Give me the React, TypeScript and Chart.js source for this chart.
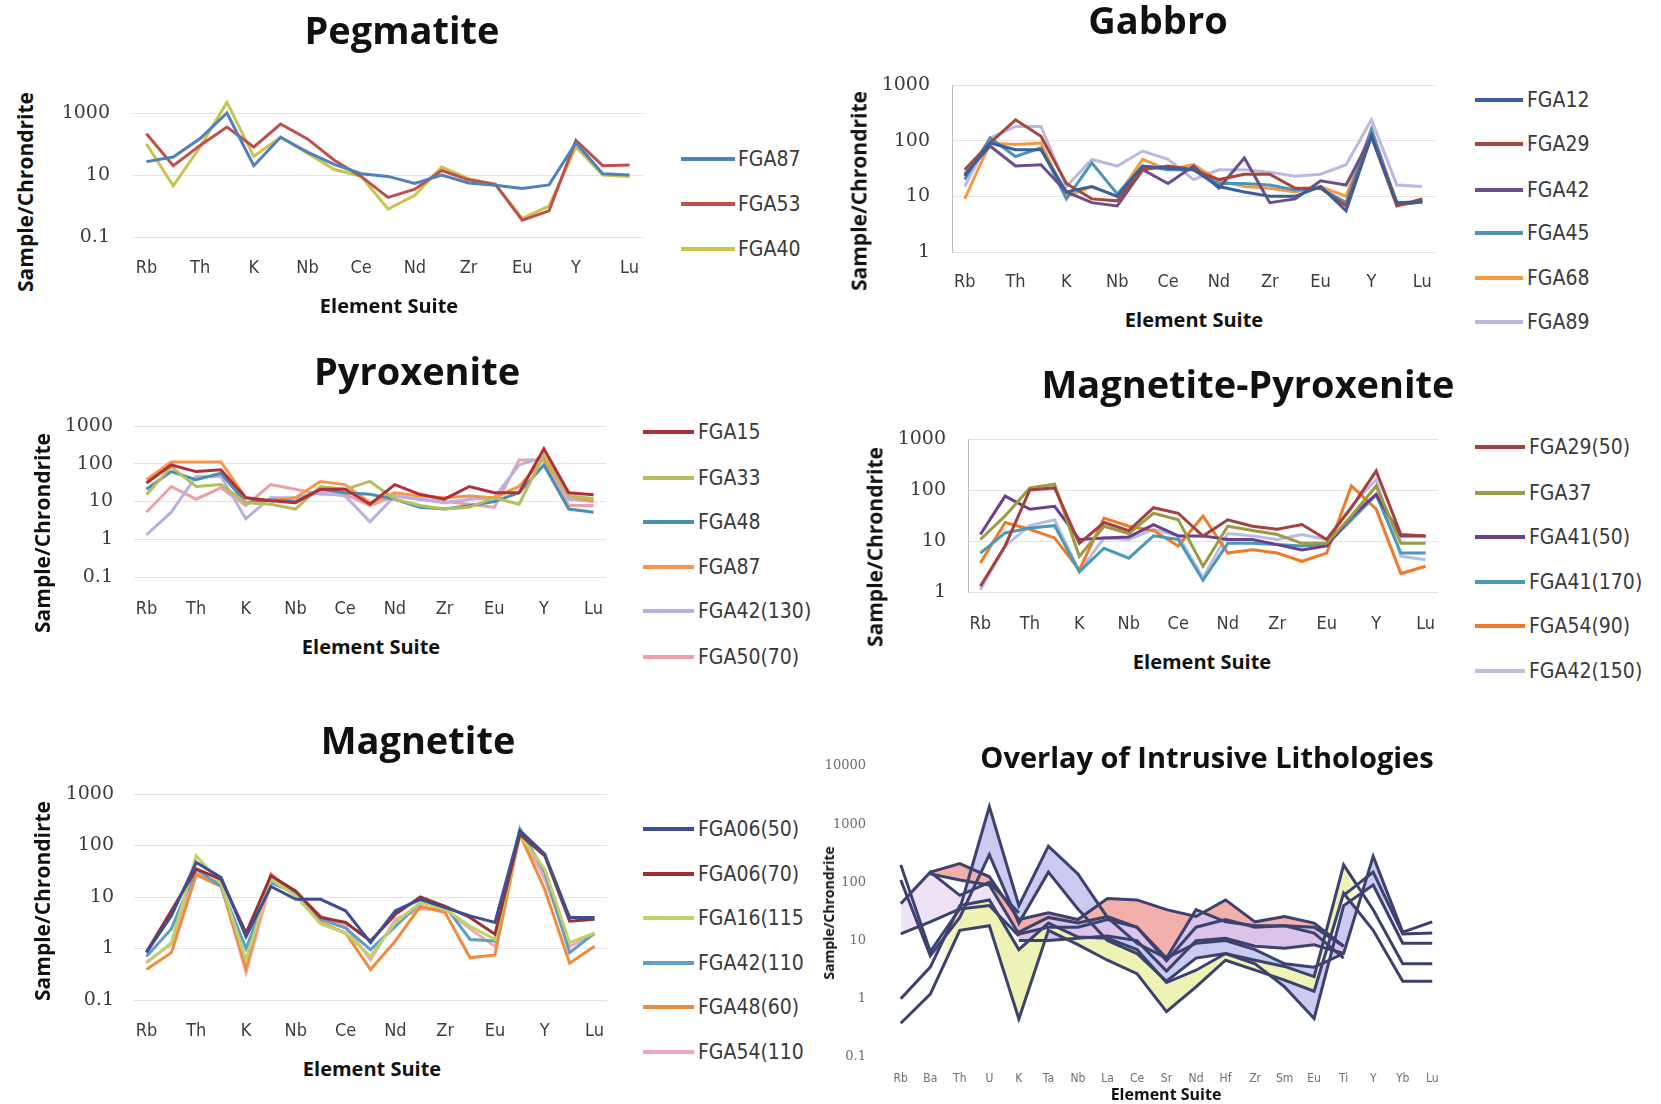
import React, { useEffect, useRef } from "react";
import { Chart, registerables } from "chart.js";
Chart.register(...registerables);

// ---------------- DATA ----------------
const ELEMENTS = ["Rb","Ba","Th","U","K","Ta","Nb","La","Ce","Sr","Nd","Hf","Zr","Sm","Eu","Ti","Y","Yb","Lu"];

// Pegmatite
const PEG_NAMES = ["FGA87","FGA53","FGA40"];
const PEG_FGA87 = [27, 38, 150, 1000, 20, 165, 55, 22, 11, 9, 5.3, 10, 5.5, 4.7, 3.7, 4.8, 110, 11, 10];
const PEG_FGA53 = [215, 20, 90, 350, 80, 440, 146, 30, 9, 1.9, 3.5, 14, 7, 5, 0.35, 0.7, 130, 20, 21];
const PEG_FGA40 = [100, 4.5, 80, 2200, 40, 165, 50, 15, 9, 0.8, 2.2, 18, 7.6, 5, 0.4, 1.0, 80, 10, 9];

// Gabbro
const GAB_NAMES = ["FGA12","FGA29","FGA42","FGA45","FGA68","FGA89"];
const GAB_FGA12 = [23, 91, 69, 69, 12, 15, 10, 35, 32, 30, 15, 12, 10, 10, 15, 5.5, 120, 7.7, 8];
const GAB_FGA29 = [30, 91, 237, 120, 17, 9, 8.3, 30, 35, 30, 20, 25, 25, 14, 14, 6.7, 120, 6.7, 9];
const GAB_FGA42 = [25, 80, 35, 37, 12, 7.7, 6.7, 30, 17, 35, 14, 49, 7.7, 9, 19, 16, 120, 7, 8];
const GAB_FGA45 = [20, 112, 52, 74, 9, 40, 11, 35, 30, 30, 17, 17, 16, 13, 14, 7.7, 160, 7, 8];
const GAB_FGA68 = [9, 91, 85, 91, 10, 15, 10, 46, 30, 37, 19, 15, 14, 12, 15, 10, 160, 7.7, 8];
const GAB_FGA89 = [15, 112, 180, 180, 15, 46, 35, 65, 46, 20, 30, 30, 27, 23, 25, 37, 237, 16, 15];

// Pyroxenite
const PYX_NAMES = ["FGA15","FGA33","FGA48","FGA87","FGA42(130)","FGA50(70)"];
const PYX_FGA15 = [31, 93, 62, 69, 12.6, 10.5, 9.3, 21, 21, 8.5, 28, 15.5, 11.5, 25, 17, 17, 250, 17, 15];
const PYX_FGA33 = [15, 83, 25, 28, 9.3, 8.5, 6.3, 25, 21, 34, 11.5, 7.8, 6.3, 7, 12.6, 8.5, 167, 14, 12];
const PYX_FGA48 = [21, 62, 38, 56, 9.3, 11, 10, 21, 17, 15.5, 11.5, 7, 6.3, 7.7, 10, 17, 93, 6.3, 5.2];
const PYX_FGA87 = [38, 112, 112, 112, 12.6, 10.5, 12.6, 34, 28, 9.3, 17, 14, 12.6, 14, 12.6, 25, 137, 14, 10];
const PYX_FGA42 = [1.3, 5.2, 46, 46, 3.5, 12.6, 12.6, 17, 14, 2.9, 14, 11.5, 9.3, 11.5, 12.6, 93, 150, 11.5, 10];
const PYX_FGA50 = [5.2, 25, 11.5, 23, 7.8, 28, 21, 15.5, 15.5, 7.8, 14, 11.5, 10, 8.5, 7, 125, 125, 7.8, 7.8];

// Magnetite-Pyroxenite
const MPX_NAMES = ["FGA29(50)","FGA37","FGA41(50)","FGA41(170)","FGA54(90)","FGA42(150)"];
const MPX_FGA29 = [1.3, 8, 100, 110, 9, 23, 16, 45, 35, 12.5, 26, 19.5, 17, 21, 10.7, 45, 235, 13.4, 12.6];
const MPX_FGA37 = [10.7, 31, 110, 130, 5, 19.5, 14, 35, 26, 3.2, 19.5, 16, 13.4, 9, 9, 31, 120, 9, 9];
const MPX_FGA41A = [13.4, 76, 42, 48, 10.7, 11.5, 12, 21, 12.6, 12.6, 10.7, 10.7, 8.5, 6.7, 8, 30, 82, 12.6, 12.6];
const MPX_FGA41B = [5.8, 14.4, 18, 20, 2.5, 7.2, 4.6, 12.6, 10.7, 1.7, 9, 9, 8.5, 8, 8.5, 26, 80, 5.8, 5.8];
const MPX_FGA54 = [3.7, 23, 17, 11.5, 2.7, 28, 19.5, 16, 8, 31, 5.8, 6.7, 5.8, 4, 5.8, 120, 42, 2.3, 3.2];
const MPX_FGA42 = [1.1, 8, 20, 26, 2.5, 11.5, 10.7, 17, 12.6, 1.9, 14, 12.6, 10.7, 13.4, 10.7, 48, 160, 5, 4.3];

// Magnetite
const MAG_NAMES = ["FGA06(50)","FGA06(70)","FGA16(115","FGA42(110","FGA48(60)","FGA54(110"];
const MAG_FGA06A = [0.83, 4.3, 47, 24, 1.7, 16, 9, 9, 5.4, 1.3, 5.4, 9, 6.2, 4.3, 3.2, 195, 68, 4, 4];
const MAG_FGA06B = [0.85, 5.4, 35, 22, 2, 26, 13, 4, 3.2, 1.4, 4.6, 10, 6.6, 4, 1.9, 165, 63, 3.4, 3.7];
const MAG_FGA16 = [0.52, 1.3, 63, 18, 0.6, 22, 10.5, 3, 2, 0.7, 3.2, 7.8, 5.8, 2.7, 1.5, 155, 35, 1.3, 2];
const MAG_FGA42 = [0.7, 2.4, 35, 16, 1, 19, 12, 3.7, 2.5, 0.95, 2.7, 7.8, 6.6, 1.5, 1.4, 210, 30, 0.83, 2];
const MAG_FGA48 = [0.39, 0.83, 27, 16, 0.42, 28, 10.5, 3.2, 2, 0.39, 1.4, 6.6, 5, 0.66, 0.75, 165, 14, 0.52, 1.1];
const MAG_FGA54 = [0.55, 1.2, 30, 18, 0.34, 19, 12, 4.3, 2.7, 0.6, 3.7, 5.8, 5.8, 2.4, 1.1, 180, 22, 1.1, 1.9];

// Overlay envelopes (upper / lower) per lithology
const OV_MAG_TOP = [1.0, 3.5, 40, 50, 7, 20, 11.5, 11, 7, 1.9, 3.1, 6, 4.6, 3.6, 2.4, 200, 34, 4, 4];
const OV_MAG_BOT = [0.38, 1.2, 15, 18, 0.45, 15, 8.5, 4.6, 2.7, 0.6, 1.6, 4.6, 3.1, 2.1, 1.35, 65, 15, 2, 2];
const OV_PYX_TOP = [15, 25, 35, 40, 14, 25, 20, 26, 17, 5, 34, 21, 18, 18, 17, 8, 8, 8, 8];
const OV_PYX_BOT = [15, 25, 35, 40, 10, 10, 11, 12, 10, 3, 10, 11, 8, 7.4, 8.5, 6, 6, 6, 6];
const OV_GAB_TOP = [40, 150, 210, 125, 23, 30, 23, 53, 50, 34, 26, 50, 21, 26, 20, 8, 8, 8, 8];
const OV_GAB_BOT = [40, 140, 110, 90, 13, 17, 17, 23, 17, 4.5, 17, 23, 17, 18, 13.5, 5, 5, 5, 5];
const OV_MPX_TOP = [43, 150, 60, 100, 30, 20, 20, 20, 20, 20, 20, 20, 20, 20, 20, 60, 150, 13, 13.5];
const OV_MPX_BOT = [13, 21, 35, 40, 12, 12, 12, 12, 12, 12, 12, 12, 12, 12, 12, 12, 12, 12, 12];
const OV_PEG_TOP = [200, 6.5, 35, 2000, 40, 420, 140, 25, 9, 5, 9, 10, 7, 4, 3.5, 6, 280, 14, 21];
const OV_PEG_BOT = [110, 5.5, 25, 300, 20, 150, 35, 10, 6, 2, 5, 6, 4, 1.6, 0.46, 40, 90, 9, 9];

// ---------------- STYLE ----------------
const TITLE_FONT = "'Open Sans', 'DejaVu Sans', sans-serif";
const COND_FONT = "'DejaVu Sans Condensed', 'DejaVu Sans', sans-serif";
const SERIF_FONT = "'DejaVu Serif', 'Liberation Serif', serif";

type Geo = {
  caL: number; caR: number; caT: number; caB: number;
  padL: number; padT: number; padR: number; padB: number;
  yMin: number; yMax: number; yTicks: number[];
  yPad: number; xPad: number; every: number;
  tickSize: number; yTickSize: number; tickColor: string; yTickColor: string;
  grid: boolean; axis: boolean;
};

function lineDs(label: string, data: number[], color: string) {
  return { label, data, borderColor: color, backgroundColor: color, borderWidth: 3, pointRadius: 0, fill: false, tension: 0 };
}

function PanelChart({ geo, datasets }: { geo: Geo; datasets: any[] }) {
  const ref = useRef<HTMLCanvasElement>(null);
  const W = Math.round(geo.padL + (geo.caR - geo.caL) + geo.padR);
  const H = Math.round(geo.padT + (geo.caB - geo.caT) + geo.padB);
  const left = Math.round(geo.caL - geo.padL);
  const top = Math.round(geo.caT - geo.padT);
  useEffect(() => {
    const chart = new Chart(ref.current as HTMLCanvasElement, {
      type: "line",
      data: { labels: ELEMENTS, datasets },
      options: {
        animation: false,
        responsive: false,
        devicePixelRatio: 1,
        layout: { padding: { left: 0, top: geo.padT, right: geo.padR, bottom: 0 } },
        plugins: {
          legend: { display: false }, tooltip: { enabled: false }, title: { display: false },
          filler: { drawTime: "beforeDatasetsDraw" },
        },
        elements: { point: { radius: 0 }, line: { tension: 0 } },
        scales: {
          x: {
            type: "category",
            offset: true,
            grid: { display: false, drawTicks: false },
            border: { display: false },
            ticks: {
              autoSkip: false, maxRotation: 0, minRotation: 0, padding: geo.xPad,
              color: geo.tickColor,
              font: { family: COND_FONT, size: geo.tickSize },
              callback: (_v: any, i: number) => (i % geo.every === 0 ? ELEMENTS[i] : ""),
            },
            afterFit: (s: any) => { s.height = geo.padB; },
          },
          y: {
            type: "logarithmic",
            min: geo.yMin,
            max: geo.yMax,
            afterBuildTicks: (s: any) => { s.ticks = geo.yTicks.map((v) => ({ value: v })); },
            grid: { display: geo.grid, color: "#e3e3e3", lineWidth: 1, drawTicks: false },
            border: { display: geo.axis, color: "#bdbdbd", width: 1 },
            ticks: {
              padding: geo.yPad,
              color: geo.yTickColor,
              font: { family: SERIF_FONT, size: geo.yTickSize },
              callback: (v: any) => String(v),
            },
            afterFit: (s: any) => { s.width = geo.padL; },
          },
        },
      } as any,
    });
    return () => chart.destroy();
  }, []);
  return (
    <canvas
      ref={ref}
      width={W}
      height={H}
      style={{ position: "absolute", left, top, width: W, height: H }}
    />
  );
}

function Txt({ x, y, text, size, bold = true, family = TITLE_FONT, color = "#111", rotate = false }: any) {
  return (
    <div
      style={{
        position: "absolute", left: x, top: y, whiteSpace: "nowrap",
        transform: rotate ? "translate(-50%, -50%) rotate(-90deg)" : "translate(-50%, -50%)",
        fontFamily: family, fontSize: size, fontWeight: bold ? 700 : 400, color, lineHeight: 1,
      }}
    >
      {text}
    </div>
  );
}

function Legend({ items, ys, x1, x2, tx }: { items: { name: string; color: string }[]; ys: number[]; x1: number; x2: number; tx: number }) {
  return (
    <>
      {items.map((it, i) => (
        <React.Fragment key={it.name + i}>
          <div style={{ position: "absolute", left: x1, top: ys[i] - 2, width: x2 - x1, height: 4, background: it.color }} />
          <div
            style={{
              position: "absolute", left: tx, top: ys[i], transform: "translateY(-50%)",
              fontFamily: COND_FONT, fontStretch: "condensed", fontSize: 21, color: "#3a3a3a",
              whiteSpace: "nowrap", lineHeight: 1,
            }}
          >
            {it.name}
          </div>
        </React.Fragment>
      ))}
    </>
  );
}

const baseGeo = {
  padL: 80, padT: 42, padR: 32, padB: 48, every: 2,
  tickSize: 18, yTickSize: 19, tickColor: "#3c3c3c", yTickColor: "#3c3c3c",
  grid: true, axis: false,
};

const GEO_PEG: Geo = { ...baseGeo, caL: 132.6, caR: 642.4, caT: 82, caB: 237, yMin: 0.1, yMax: 10000, yTicks: [0.1, 10, 1000], yPad: 23, xPad: 21 };
const GEO_GAB: Geo = { ...baseGeo, caL: 952, caR: 1435, caT: 85, caB: 252, yMin: 1, yMax: 1000, yTicks: [1, 10, 100, 1000], yPad: 22, xPad: 20, axis: true };
const GEO_PYX: Geo = { ...baseGeo, caL: 133.6, caR: 605.4, caT: 426, caB: 577, yMin: 0.1, yMax: 1000, yTicks: [0.1, 1, 10, 100, 1000], yPad: 21, xPad: 22 };
const GEO_MPX: Geo = { ...baseGeo, caL: 967.6, caR: 1437.4, caT: 439, caB: 592, yMin: 1, yMax: 1000, yTicks: [1, 10, 100, 1000], yPad: 22, xPad: 22, axis: true };
const GEO_MAG: Geo = { ...baseGeo, caL: 133.5, caR: 606.5, caT: 794, caB: 1000, yMin: 0.1, yMax: 1000, yTicks: [0.1, 1, 10, 100, 1000], yPad: 20, xPad: 21 };
const GEO_OV: Geo = {
  ...baseGeo, caL: 886, caR: 1447, caT: 766, caB: 1057, padL: 60, padT: 34, padR: 20, padB: 30,
  yMin: 0.1, yMax: 10000, yTicks: [0.1, 1, 10, 100, 1000, 10000], yPad: 20, xPad: 15, every: 1,
  tickSize: 12, yTickSize: 13, tickColor: "#6e6e6e", yTickColor: "#6e6e6e", grid: false, axis: false,
};

const PEG_COLORS = ["#4f81bd", "#c0504d", "#c9c44c"];
const GAB_COLORS = ["#3a5e9c", "#a5473c", "#6c4f88", "#4e93b8", "#f59a3d", "#bcb8e0"];
const PYX_COLORS = ["#b22f3a", "#b7bd5c", "#4a8fb0", "#f7964a", "#b8b0e0", "#eaa1a8"];
const MPX_COLORS = ["#a2413f", "#9a9b42", "#6b3f8c", "#4b9ab4", "#f07a28", "#b8bde6"];
const MAG_COLORS = ["#3c4f94", "#9c2f2f", "#bfd26a", "#5e9fc6", "#f28a3c", "#f0a8b8"];

const OUTLINE = "#3b4270";
const NONE = "rgba(255,255,255,0)";

// fill colour stops along the category axis: [categoryIndex, colour]
function bandFill(stops: [number, string][]) {
  return (ctx: any) => {
    const chart = ctx.chart;
    const ca = chart.chartArea;
    const xs = chart.scales && chart.scales.x;
    if (!ca || !xs) return stops[0][1];
    const g = chart.ctx.createLinearGradient(ca.left, 0, ca.right, 0);
    const w = ca.right - ca.left;
    for (const [idx, col] of stops) {
      const f = Math.min(1, Math.max(0, (xs.getPixelForValue(idx) - ca.left) / w));
      g.addColorStop(f, col);
    }
    return g;
  };
}

// visible outline segments, given as [firstSegment, lastSegment] ranges (segment i joins point i and i+1)
function outline(ranges: [number, number][]) {
  return (ctx: any) => (ranges.some(([a, b]) => ctx.p0DataIndex >= a && ctx.p0DataIndex <= b) ? OUTLINE : NONE);
}

function band(top: number[], bot: number[], stops: [number, string][], visTop: [number, number][], visBot: [number, number][]) {
  return [
    { label: "", data: top, borderColor: OUTLINE, backgroundColor: bandFill(stops), borderWidth: 3, pointRadius: 0, fill: "+1", tension: 0, segment: { borderColor: outline(visTop) } },
    { label: "", data: bot, borderColor: OUTLINE, backgroundColor: NONE, borderWidth: 3, pointRadius: 0, fill: false, tension: 0, segment: { borderColor: outline(visBot) } },
  ];
}

const WHITE = "#ffffff";
const YEL = "#eef2b4";
const SAL = "#f3b0aa";
const VIO = "#dcc3ea";
const PALE = "#efe2f5";
const LAV = "#c9ccf1";
const ALL: [number, number][] = [[0, 17]];

export default function App() {
  const pegDs = [PEG_FGA87, PEG_FGA53, PEG_FGA40].map((d, i) => lineDs(PEG_NAMES[i], d, PEG_COLORS[i]));
  const gabDs = [GAB_FGA12, GAB_FGA29, GAB_FGA42, GAB_FGA45, GAB_FGA68, GAB_FGA89].map((d, i) => lineDs(GAB_NAMES[i], d, GAB_COLORS[i]));
  const pyxDs = [PYX_FGA15, PYX_FGA33, PYX_FGA48, PYX_FGA87, PYX_FGA42, PYX_FGA50].map((d, i) => lineDs(PYX_NAMES[i], d, PYX_COLORS[i]));
  const mpxDs = [MPX_FGA29, MPX_FGA37, MPX_FGA41A, MPX_FGA41B, MPX_FGA54, MPX_FGA42].map((d, i) => lineDs(MPX_NAMES[i], d, MPX_COLORS[i]));
  const magDs = [MAG_FGA06A, MAG_FGA06B, MAG_FGA16, MAG_FGA42, MAG_FGA48, MAG_FGA54].map((d, i) => lineDs(MAG_NAMES[i], d, MAG_COLORS[i]));
  const ovDs = [
    ...band(OV_MAG_TOP, OV_MAG_BOT, [[0, WHITE], [1.3, WHITE], [1.8, YEL], [15.1, YEL], [15.7, WHITE], [18, WHITE]], ALL, ALL),
    ...band(OV_PYX_TOP, OV_PYX_BOT, [[0, NONE], [3.99, NONE], [4, VIO], [15, VIO], [15.01, NONE], [18, NONE]], [[4, 14]], [[4, 14]]),
    ...band(OV_GAB_TOP, OV_GAB_BOT, [[0, NONE], [0.99, NONE], [1, SAL], [15, SAL], [15.01, NONE], [18, NONE]], [[1, 14]], [[1, 14]]),
    ...band(OV_MPX_TOP, OV_MPX_BOT, [[0, PALE], [4, PALE], [4.01, NONE], [18, NONE]], [[0, 3], [15, 17]], [[0, 3]]),
    ...band(OV_PEG_TOP, OV_PEG_BOT, [[0, WHITE], [1.4, WHITE], [2, LAV], [16.3, LAV], [16.9, WHITE], [18, WHITE]], ALL, ALL),
  ];

  const items = (names: string[], colors: string[]) => names.map((n, i) => ({ name: n, color: colors[i] }));

  return (
    <div style={{ position: "fixed", left: 0, top: 0, width: 1661, height: 1104, background: "#fff", overflow: "hidden" }}>
      <PanelChart geo={GEO_PEG} datasets={pegDs} />
      <PanelChart geo={GEO_GAB} datasets={gabDs} />
      <PanelChart geo={GEO_PYX} datasets={pyxDs} />
      <PanelChart geo={GEO_MPX} datasets={mpxDs} />
      <PanelChart geo={GEO_MAG} datasets={magDs} />
      <PanelChart geo={GEO_OV} datasets={ovDs} />

      <Txt x={402} y={29} text="Pegmatite" size={38} />
      <Txt x={1158} y={19} text="Gabbro" size={38} />
      <Txt x={417} y={370} text="Pyroxenite" size={38} />
      <Txt x={1248} y={383} text="Magnetite-Pyroxenite" size={38} />
      <Txt x={418} y={739} text="Magnetite" size={38} />
      <Txt x={1207} y={756} text="Overlay of Intrusive Lithologies" size={29} />

      <Txt x={389} y={306} text="Element Suite" size={20} />
      <Txt x={1194} y={320} text="Element Suite" size={20} />
      <Txt x={371} y={647} text="Element Suite" size={20} />
      <Txt x={1202} y={662} text="Element Suite" size={20} />
      <Txt x={372} y={1069} text="Element Suite" size={20} />
      <Txt x={1166} y={1094} text="Element Suite" size={16} />

      <Txt x={25} y={192} text="Sample/Chrondrite" size={21} rotate />
      <Txt x={859} y={191} text="Sample/Chrondrite" size={21} rotate />
      <Txt x={42} y={533} text="Sample/Chrondrite" size={21} rotate />
      <Txt x={875} y={547} text="Sample/Chrondrite" size={21} rotate />
      <Txt x={42} y={901} text="Sample/Chrondirte" size={21} rotate />
      <Txt x={829} y={913} text="Sample/Chrondrite" size={14} rotate />

      <Legend items={items(PEG_NAMES, PEG_COLORS)} ys={[159, 204, 249]} x1={681} x2={735} tx={738} />
      <Legend items={items(GAB_NAMES, GAB_COLORS)} ys={[100, 144, 190, 233, 278, 322]} x1={1475} x2={1523} tx={1527} />
      <Legend items={items(PYX_NAMES, PYX_COLORS)} ys={[432, 478, 522, 567, 611, 657]} x1={643} x2={694} tx={698} />
      <Legend items={items(MPX_NAMES, MPX_COLORS)} ys={[447, 493, 537, 582, 626, 671]} x1={1475} x2={1525} tx={1529} />
      <Legend items={items(MAG_NAMES, MAG_COLORS)} ys={[829, 874, 918, 963, 1007, 1052]} x1={643} x2={694} tx={698} />
    </div>
  );
}
